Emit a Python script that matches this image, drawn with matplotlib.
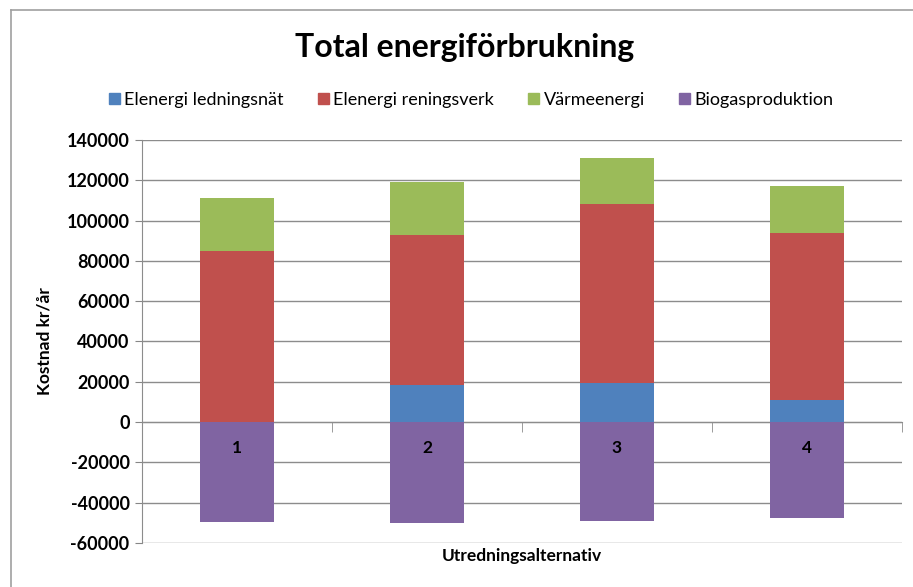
import matplotlib.pyplot as plt
from matplotlib.lines import Line2D
import numpy as np

# Data
categories = ["1", "2", "3", "4"]
ledningsnat = [0, 18200, 19500, 11200]
reningsverk = [85000, 74800, 88800, 82600]
varme = [26100, 26400, 22700, 23600]
biogas = [-49500, -50200, -49000, -47700]

series_names = ["Elenergi ledningsnät", "Elenergi reningsverk", "Värmeenergi", "Biogasproduktion"]
colors = ["#4F81BD", "#C0504D", "#9BBB59", "#8064A2"]

plt.rcParams['font.family'] = ['Lato', 'DejaVu Sans']
plt.rcParams['axes.unicode_minus'] = False

fig = plt.figure(figsize=(9.13, 5.87), dpi=100)
ax = fig.add_axes([142 / 913, 44 / 587, 760 / 913, 403 / 587])

x = np.arange(len(categories))
w = 0.39

# Stacked positive parts
bottom = np.zeros(len(categories))
for vals, col in zip([ledningsnat, reningsverk, varme], colors[:3]):
    ax.bar(x, vals, w, bottom=bottom, color=col, zorder=2)
    bottom += np.array(vals)

# Negative biogas part
ax.bar(x, biogas, w, color=colors[3], zorder=2)

ax.set_xlim(-0.5, len(categories) - 0.5)
ax.set_ylim(-60000, 140000)
ax.set_yticks(np.arange(-60000, 140001, 20000))
ax.tick_params(axis='y', labelsize=13, length=5, color='#868686', pad=4)
for lbl in ax.get_yticklabels():
    lbl.set_fontweight('bold')

ax.yaxis.grid(True, color='#8c8c8c', lw=1)
ax.set_axisbelow(True)

# Category axis crossing at zero
ax.spines['bottom'].set_position(('data', 0))
ax.spines['bottom'].set_color('#8c8c8c')
ax.spines['bottom'].set_zorder(0.5)
ax.spines['left'].set_color('#8c8c8c')
ax.spines['top'].set_visible(False)
ax.spines['right'].set_visible(False)
ax.set_xticks(x)
ax.set_xticklabels([])
ax.tick_params(axis='x', which='major', length=0)
ax.set_xticks(np.arange(-0.5, len(categories)), minor=True)
ax.tick_params(axis='x', which='minor', length=7, color='#8c8c8c', direction='out')

for xi, lab in zip(x, categories):
    ax.annotate(lab, (xi, 0), xytext=(0, -19), textcoords='offset points',
                ha='center', va='center', fontsize=12.5, fontweight='bold')

ax.set_ylabel("Kostnad kr/år", fontsize=12.5, fontweight='bold', labelpad=10)
ax.text(0.5, -0.012, "Utredningsalternativ", transform=ax.transAxes,
        ha='center', va='top', fontsize=12.5, fontweight='bold')

fig.text(0.509, 1 - 47 / 587, "Total energiförbrukning", ha='center', va='center',
         fontsize=23, fontweight='bold')

handles = [plt.Rectangle((0, 0), 1, 1, color=c) for c in colors]
fig.legend(handles, series_names, loc='center', bbox_to_anchor=(0.516, 1 - 100 / 587),
           ncol=4, frameon=False, fontsize=13, handlelength=0.6, handleheight=0.6,
           handletextpad=0.25, columnspacing=1.9)

# Outer chart frame (left and top edges visible)
fig.add_artist(Line2D([11 / 913, 11 / 913], [0, 1 - 10 / 587], color='#a0a0a0', lw=1.2))
fig.add_artist(Line2D([11 / 913, 1], [1 - 10 / 587, 1 - 10 / 587], color='#a0a0a0', lw=1.2))

fig.savefig("out.png", dpi=100)
